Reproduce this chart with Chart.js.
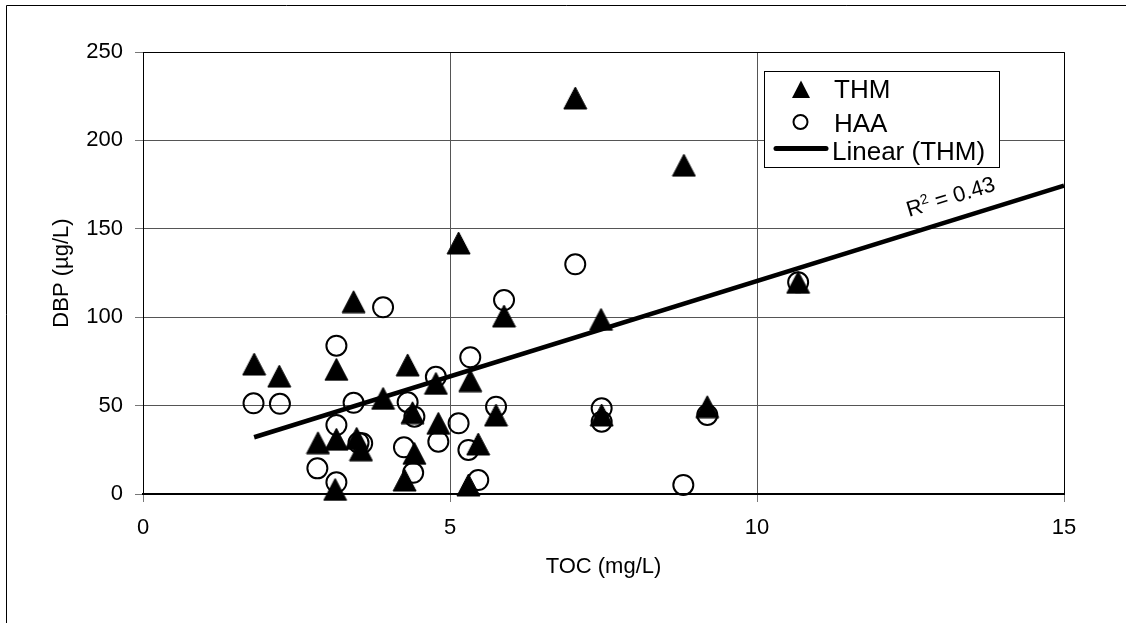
<!DOCTYPE html>
<html><head><meta charset="utf-8">
<script src="https://cdn.jsdelivr.net/npm/chart.js@4/dist/chart.umd.min.js"></script>
<style>html,body{margin:0;padding:0;background:#fff;}#wrap{width:1126px;height:623px;}</style>
</head><body><div id="wrap"><canvas id="c" width="1126" height="623"></canvas></div>
<script>
// ---- data ----
const thmX = [1.81, 2.22, 3.15, 3.43, 2.85, 3.15, 3.48, 3.55, 3.13, 3.91, 4.31, 4.39, 4.42, 4.26, 4.77, 4.81, 5.33, 5.46, 5.30, 5.75, 5.88, 5.14, 7.04, 7.46, 7.47, 8.81, 9.19, 10.67];
const thmY = [73.5, 66.7, 70.5, 108.8, 29.0, 31.0, 31.5, 25.0, 2.6, 54.1, 73.0, 46.0, 23.0, 7.9, 62.6, 40.0, 64.1, 28.3, 5.1, 44.7, 100.7, 142.0, 224.0, 98.8, 44.7, 186.0, 49.4, 119.7];
const haaX = [1.80, 2.23, 3.91, 3.15, 3.43, 3.15, 3.51, 3.57, 2.84, 3.15, 4.31, 4.42, 4.25, 4.40, 4.77, 4.81, 5.14, 5.33, 5.30, 5.46, 5.75, 5.88, 7.04, 7.47, 7.47, 8.80, 9.19, 10.67];
const haaY = [51.3, 51.0, 105.6, 83.9, 51.6, 39.0, 29.0, 28.7, 14.5, 6.6, 51.9, 43.7, 26.4, 12.0, 66.3, 29.6, 40.0, 77.3, 24.9, 7.9, 49.4, 109.7, 129.9, 48.5, 40.9, 5.1, 44.7, 119.7];
const trendX = [1.81, 15];
const trendY = [32.1, 174.4];
const xTicks = [0, 5, 10, 15];
const yTicks = [0, 50, 100, 150, 200, 250];
const seriesNames = ['THM', 'HAA', 'Linear (THM)'];
const r2Parts = ['R', '2', ' = 0.43'];
const xTitle = 'TOC (mg/L)';
const yTitle = 'DBP (\u00B5g/L)';

const FAM = "'Liberation Sans', Arial, sans-serif";

function makeTriangle(w, h) {
  const c = document.createElement('canvas');
  c.width = w + 2; c.height = h + 2;
  const g = c.getContext('2d');
  g.fillStyle = '#000'; g.strokeStyle = '#000'; g.lineWidth = 1; g.lineJoin = 'round';
  g.beginPath();
  g.moveTo(1, h + 1); g.lineTo(w + 1, h + 1); g.lineTo(w / 2 + 1, 1); g.closePath();
  g.fill(); g.stroke();
  return c;
}
const triImg = makeTriangle(23, 22);

const pts = (xs, ys) => xs.map((x, i) => ({x: x, y: ys[i]}));

const decor = {
  id: 'decor',
  beforeDraw(chart) {
    const ctx = chart.ctx;
    ctx.save();
    ctx.fillStyle = '#fff';
    ctx.fillRect(0, 0, chart.width, chart.height);
    ctx.strokeStyle = '#000'; ctx.lineWidth = 1;
    ctx.beginPath();
    ctx.moveTo(6.5, 623); ctx.lineTo(6.5, 5.5); ctx.lineTo(1126, 5.5);
    ctx.stroke();
    ctx.restore();
  },
  beforeDatasetsDraw(chart) {
    const ctx = chart.ctx, a = chart.chartArea;
    ctx.save();
    ctx.strokeStyle = '#000'; ctx.lineWidth = 1;
    ctx.beginPath();
    ctx.moveTo(Math.round(a.left) + 0.5, Math.round(a.top) + 0.5);
    ctx.lineTo(Math.round(a.right) + 0.5, Math.round(a.top) + 0.5);
    ctx.lineTo(Math.round(a.right) + 0.5, Math.round(a.bottom));
    ctx.stroke();
    ctx.restore();
  },
  afterDraw(chart) {
    const ctx = chart.ctx;
    ctx.save();
    // legend box
    ctx.fillStyle = '#fff';
    ctx.fillRect(764, 71, 235, 96);
    ctx.strokeStyle = '#000'; ctx.lineWidth = 1;
    ctx.strokeRect(764.5, 71.5, 235, 96);
    // triangle
    ctx.fillStyle = '#000';
    ctx.beginPath();
    ctx.moveTo(792, 98); ctx.lineTo(810, 98); ctx.lineTo(801, 80.5); ctx.closePath();
    ctx.fill();
    // circle
    ctx.lineWidth = 2;
    ctx.beginPath(); ctx.arc(800.5, 122, 7, 0, Math.PI * 2); ctx.stroke();
    // line sample
    ctx.lineWidth = 5; ctx.lineCap = 'round';
    ctx.beginPath(); ctx.moveTo(776, 148.5); ctx.lineTo(826, 148.5); ctx.stroke();
    // texts
    ctx.font = '26px ' + FAM;
    ctx.textBaseline = 'alphabetic'; ctx.textAlign = 'left';
    ctx.fillText(seriesNames[0], 834, 98);
    ctx.fillText(seriesNames[1], 834, 131.5);
    ctx.fillText(seriesNames[2], 832, 160);
    // R2 label with superscript
    ctx.translate(909, 217);
    ctx.rotate(-17 * Math.PI / 180);
    ctx.font = '22px ' + FAM;
    ctx.fillText(r2Parts[0], 0, 0);
    let x = ctx.measureText(r2Parts[0]).width;
    ctx.font = '14px ' + FAM;
    ctx.fillText(r2Parts[1], x, -8);
    x += ctx.measureText(r2Parts[1]).width;
    ctx.font = '22px ' + FAM;
    ctx.fillText(r2Parts[2], x, 0);
    ctx.restore();
  }
};

new Chart(document.getElementById('c'), {
  type: 'scatter',
  data: {
    datasets: [
      {label: seriesNames[2], data: pts(trendX, trendY), showLine: true, borderColor: '#000', borderWidth: 4.5,
       pointRadius: 0, fill: false, order: 0, clip: false},
      {label: seriesNames[1], data: pts(haaX, haaY), pointStyle: 'circle', pointRadius: 10,
       borderColor: '#000', borderWidth: 2, backgroundColor: 'rgba(0,0,0,0)', order: 1, clip: false},
      {label: seriesNames[0], data: pts(thmX, thmY), pointStyle: triImg, pointRadius: 12,
       borderColor: '#000', backgroundColor: '#000', order: 2, clip: false}
    ]
  },
  options: {
    responsive: false, animation: false, devicePixelRatio: 1,
    layout: {padding: {top: 52, right: 62, left: 0, bottom: 0}},
    plugins: {legend: {display: false}, tooltip: {enabled: false}},
    scales: {
      x: {
        type: 'linear', min: 0, max: 15,
        afterBuildTicks: s => { s.ticks = xTicks.map(v => ({value: v})); },
        grid: {color: '#555', lineWidth: 1, tickLength: 8, tickColor: '#777'},
        border: {color: '#000', width: 2},
        ticks: {color: '#000', font: {family: FAM, size: 22}, padding: 13, maxRotation: 0},
        title: {display: true, text: xTitle, color: '#000', font: {family: FAM, size: 22}, padding: {top: 0, bottom: 43}},
        afterFit: s => { s.height = 129; }
      },
      y: {
        type: 'linear', min: 0, max: 250,
        afterBuildTicks: s => { s.ticks = yTicks.map(v => ({value: v})); },
        grid: {color: '#555', lineWidth: 1, tickLength: 8, tickColor: '#777'},
        border: {color: '#000', width: 1},
        ticks: {color: '#000', font: {family: FAM, size: 22}, padding: 12},
        title: {display: true, text: yTitle, color: '#000', font: {family: FAM, size: 22}, padding: {top: 49, bottom: 0}},
        afterFit: s => { s.width = 143; }
      }
    }
  },
  plugins: [decor]
});
</script>
</body></html>
